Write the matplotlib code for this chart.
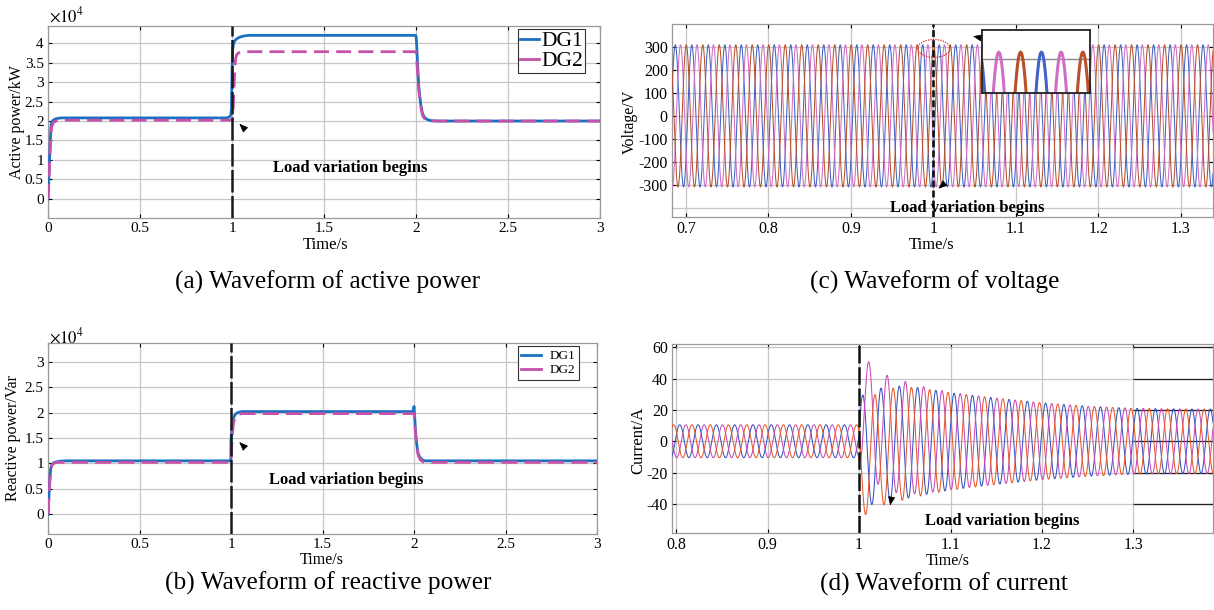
import numpy as np
import matplotlib
matplotlib.use("Agg")
import matplotlib.pyplot as plt
from matplotlib.patches import Ellipse
from matplotlib.ticker import FuncFormatter

# ---------------------------------------------------------------- data
# (a) active power of the two DG units, kW (time in s)
t_p_dg1 = [0, 0.004, 0.008, 0.012, 0.016, 0.02, 0.03, 0.045, 0.07, 0.1, 0.97,
           0.985, 0.993, 0.997, 1.0, 1.003, 1.008, 1.015, 1.025, 1.04, 1.06,
           1.09, 1.13, 1.2, 1.999, 2.002, 2.008, 2.015, 2.025, 2.035, 2.045,
           2.06, 2.08, 2.12, 3.0]
p_dg1 = [0, 4500, 9500, 14500, 18500, 19700, 20300, 20600, 20800, 20800, 20800,
         21000, 21500, 23000, 32000, 38000, 39800, 40600, 41100, 41500, 41800,
         42000, 42000, 42000, 42000, 41000, 35000, 29000, 24500, 22000, 21000,
         20400, 20100, 20000, 20000]
t_p_dg2 = [0, 0.005, 0.01, 0.015, 0.02, 0.03, 0.05, 0.08, 1.0, 1.004, 1.008,
           1.012, 1.016, 1.02, 1.025, 1.035, 1.05, 1.07, 1.999, 2.002, 2.008,
           2.015, 2.025, 2.035, 2.045, 2.06, 2.08, 3.0]
p_dg2 = [0, 5000, 11000, 16000, 18500, 19700, 20100, 20200, 20200, 21000, 25000,
         30000, 34000, 36000, 37000, 37500, 37700, 37800, 37800, 37000, 33000,
         28000, 24000, 21500, 20700, 20200, 20000, 20000]

# (b) reactive power of the two DG units, Var
t_q_dg1 = [0, 0.005, 0.01, 0.015, 0.02, 0.03, 0.045, 0.07, 0.1, 0.999, 1.0,
           1.004, 1.008, 1.014, 1.022, 1.032, 1.045, 1.06, 1.08, 1.996, 2.0,
           2.004, 2.008, 2.014, 2.022, 2.032, 2.045, 2.06, 2.08, 3.0]
q_dg1 = [0, 3500, 7000, 9000, 9700, 10100, 10300, 10450, 10500, 10500, 14500,
         16500, 18000, 19000, 19600, 19900, 20100, 20200, 20200, 20200, 21200,
         19000, 16500, 14000, 12000, 11200, 10700, 10500, 10500, 10500]
t_q_dg2 = [0, 0.005, 0.01, 0.015, 0.02, 0.03, 0.05, 0.08, 1.0, 1.004, 1.008,
           1.013, 1.02, 1.03, 1.045, 1.06, 2.0, 2.005, 2.01, 2.016, 2.024, 2.034,
           2.05, 2.07, 3.0]
q_dg2 = [0, 3000, 6500, 8500, 9500, 10000, 10200, 10200, 10200, 13500, 16000,
         17800, 18800, 19400, 19700, 19800, 19800, 17500, 15000, 13000, 11500,
         10700, 10300, 10200, 10200]

# (c) three-phase voltage: peak value (V), frequency (Hz), time of a crest per phase (s)
v_peak = 308
f_grid = 50
v_phases = ["A", "B", "C"]
v_crest = [1.007, 1.0133, 1.0203]
v_colors = ["#4262c6", "#d06ec6", "#b8502c"]

# (d) three-phase current: amplitude envelope (A), crest times, decaying offsets after t = 1 s
i_env_t = [0.79, 1.0, 1.03, 1.05, 1.1, 1.15, 1.2, 1.25, 1.3, 1.35, 1.39]
i_env_a = [10.5, 36.0, 36.5, 36.0, 31.0, 27.5, 24.5, 22.3, 21.0, 20.6, 20.5]
i_crest = [1.004, 1.0107, 1.0173]
i_offset = [-8.0, 24.0, -15.0]
i_tau = 0.021
i_colors = ["#3552c4", "#c94bb5", "#e8582a"]

t_switch = 1.0

# ---------------------------------------------------------------- figure
plt.rcParams["font.family"] = ["Liberation Serif", "DejaVu Serif"]
plt.rcParams["mathtext.fontset"] = "stix"

W, H = 1214, 610
fig = plt.figure(figsize=(W / 100, H / 100), dpi=100)


def axes_px(left, top, right, bottom):
    return fig.add_axes([left / W, 1 - bottom / H, (right - left) / W, (bottom - top) / H])


def text_px(x, y, s, **kw):
    kw.setdefault("ha", "center")
    kw.setdefault("va", "center")
    fig.text(x / W, 1 - y / H, s, **kw)


def style(ax, fs):
    ax.grid(True, color="#c6c6c6", lw=0.9)
    ax.set_axisbelow(True)
    for s in ax.spines.values():
        s.set_color("#9a9a9a")
        s.set_linewidth(0.9)
    ax.tick_params(direction="in", length=3, width=0.8, color="k",
                   top=True, right=True, labelsize=fs, pad=3)


def arrowhead(ax, xy, dx, dy):
    ax.annotate("", xy=xy, xytext=(dx, dy), textcoords="offset points",
                arrowprops=dict(arrowstyle="-|>,head_length=0.55,head_width=0.22",
                                color="k", lw=0.5, shrinkA=0, shrinkB=0,
                                mutation_scale=10))


g = lambda v, p: f"{v:g}"
g4 = lambda v, p: f"{v / 1e4:g}"
blue_dg = "#1b70c2"
mag_dg = "#c651a9"
CAP = 18.3
NOTE = 12
LAB = 12

# ---- (a) active power
ax = axes_px(48, 26, 600, 218)
style(ax, 11)
ax.plot(t_p_dg1, p_dg1, color=blue_dg, lw=2.0, label="DG1", zorder=3)
ax.plot(t_p_dg2, p_dg2, color=mag_dg, lw=2.0, dashes=(5.4, 2.6), label="DG2", zorder=4)
ax.axvline(t_switch, color="#1a1a1a", lw=1.8, dashes=(9, 1.4), zorder=5)
ax.set_xlim(0, 3)
ax.set_ylim(-4900, 44400)
ax.set_xticks(np.arange(0, 3.01, 0.5))
ax.set_yticks(np.arange(0, 40001, 5000))
ax.xaxis.set_major_formatter(FuncFormatter(g))
ax.yaxis.set_major_formatter(FuncFormatter(g4))
leg = ax.legend(loc="upper right", bbox_to_anchor=(0.973, 0.985), borderaxespad=0,
                fontsize=15.5, handlelength=0.9, handletextpad=0.1,
                borderpad=0.1, labelspacing=0.0,
                fancybox=False, framealpha=1, edgecolor="#333333")
leg.get_frame().set_linewidth(0.8)
for h in leg.get_lines():
    h.set_linestyle("-")
ax.text(1.64, 7900, "Load variation begins", fontsize=NOTE, fontweight="bold",
        ha="center", va="center")
arrowhead(ax, (1.04, 19300), 3.6, -3.6)
text_px(49, 16, r"$\times10^4$", ha="left", fontsize=12)
text_px(17, 122, "Active power/kW", rotation=90, fontsize=11.5)
text_px(326, 245, "Time/s", fontsize=LAB)
text_px(328, 282, "(a) Waveform of active power", fontsize=CAP)

# ---- (b) reactive power
ax = axes_px(48, 343, 597, 534)
style(ax, 11)
ax.plot(t_q_dg1, q_dg1, color=blue_dg, lw=2.0, label="DG1", zorder=3)
ax.plot(t_q_dg2, q_dg2, color=mag_dg, lw=2.0, dashes=(5.8, 2.6), label="DG2", zorder=4)
ax.axvline(t_switch, color="#1a1a1a", lw=1.8, dashes=(9, 1.4), zorder=5)
ax.set_xlim(0, 3)
ax.set_ylim(-3900, 33700)
ax.set_xticks(np.arange(0, 3.01, 0.5))
ax.set_yticks(np.arange(0, 30001, 5000))
ax.xaxis.set_major_formatter(FuncFormatter(g))
ax.yaxis.set_major_formatter(FuncFormatter(g4))
leg = ax.legend(loc="upper right", bbox_to_anchor=(0.967, 0.984), borderaxespad=0,
                fontsize=9.5, handlelength=1.5, handletextpad=0.6,
                borderpad=0.3, labelspacing=0.15,
                fancybox=False, framealpha=1, edgecolor="#333333")
leg.get_frame().set_linewidth(0.8)
for h in leg.get_lines():
    h.set_linestyle("-")
ax.text(1.63, 6700, "Load variation begins", fontsize=NOTE, fontweight="bold",
        ha="center", va="center")
arrowhead(ax, (1.045, 14200), 3.6, -3.6)
text_px(49, 337, r"$\times10^4$", ha="left", fontsize=12)
text_px(13, 438, "Reactive power/Var", rotation=90, fontsize=11.5)
text_px(322, 560, "Time/s", fontsize=11.5)
text_px(328, 583, "(b) Waveform of reactive power", fontsize=CAP)

# ---- (c) voltage
ax = axes_px(672, 24, 1213, 217)
style(ax, 11.5)
tv = np.linspace(0.68, 1.345, 24000)
w = 2 * np.pi * f_grid
for tc, col in zip(v_crest, v_colors):
    ax.plot(tv, v_peak * np.cos(w * (tv - tc)), color=col, lw=0.75, zorder=3)
ax.axhline(-400, color="#c6c6c6", lw=0.9, zorder=0)
ax.axvline(t_switch, color="#111111", lw=1.9, dashes=(2.6, 1.2), zorder=5)
ax.set_xlim(0.683, 1.339)
ax.set_ylim(-438, 398)
ax.set_xticks(np.arange(0.7, 1.31, 0.1))
ax.set_yticks(np.arange(-300, 301, 100))
ax.xaxis.set_major_formatter(FuncFormatter(lambda v, p: f"{round(v, 2):g}"))
ax.yaxis.set_major_formatter(FuncFormatter(lambda v, p: f"{round(v):g}"))
ax.add_patch(Ellipse((1.0006, 292), 0.039, 78, fill=False, ec="#e02020",
                     ls=(0, (1, 1)), lw=0.9, zorder=6))
ax.text(1.0415, -400, "Load variation begins", fontsize=NOTE, fontweight="bold",
        ha="center", va="center", zorder=6)
arrowhead(ax, (1.006, -315), 3.6, 3.0)
arrowhead(ax, (1.048, 345), 5.0, -1.0)
text_px(630, 122, "Voltage/V", rotation=90, fontsize=11.5)
text_px(932, 245, "Time/s", fontsize=LAB)
text_px(935, 282, "(c) Waveform of voltage", fontsize=CAP)

# inset: close-up of the crests around the switching instant
axi = axes_px(982, 30, 1090, 93)
tz = np.linspace(0.985, 1.026, 2000)
for tc, col in zip(v_crest, v_colors):
    axi.plot(tz, v_peak * np.cos(w * (tz - tc)), color=col, lw=2.2)
axi.axhline(300, color="#8a8a8a", lw=1.0, zorder=0)
axi.set_xlim(0.9879, 1.0226)
axi.set_ylim(261, 333.5)
axi.set_xticks([])
axi.set_yticks([])
for s in axi.spines.values():
    s.set_color("#222222")
    s.set_linewidth(1.3)

# ---- (d) current
ax = axes_px(672, 344, 1213, 533)
style(ax, 11.5)
ti = np.linspace(0.79, 1.39, 24000)
env = np.interp(ti, i_env_t, i_env_a)
env_pre = i_env_a[0]
after = ti >= t_switch
for tc, dc, col in zip(i_crest, i_offset, i_colors):
    i = np.where(after,
                 env * np.cos(w * (ti - tc)) + dc * np.exp(-(ti - t_switch) / i_tau),
                 env_pre * np.cos(w * (ti - tc)))
    ax.plot(ti, i, color=col, lw=0.75, zorder=3)
ax.axvline(t_switch, color="#111111", lw=1.8, dashes=(7, 1.5), zorder=5)
ax.set_xlim(0.7955, 1.387)
ax.set_ylim(-58.5, 62)
ax.set_xticks(np.arange(0.8, 1.31, 0.1))
ax.set_yticks(np.arange(-40, 61, 20))
ax.hlines(np.arange(-40, 61, 20), 1.3, 1.387, color="#222222", lw=0.9, zorder=2)
ax.xaxis.set_major_formatter(FuncFormatter(lambda v, p: f"{round(v, 2):g}"))
ax.yaxis.set_major_formatter(FuncFormatter(lambda v, p: f"{round(v):g}"))
ax.text(1.157, -51, "Load variation begins", fontsize=NOTE, fontweight="bold",
        ha="center", va="center", zorder=6)
arrowhead(ax, (1.034, -41), 0.8, 4.5)
text_px(638, 440, "Current/A", rotation=90, fontsize=12)
text_px(948, 561, "Time/s", fontsize=11.5)
text_px(944, 584, "(d) Waveform of current", fontsize=CAP)

fig.savefig("out.png", dpi=100, facecolor="white")
